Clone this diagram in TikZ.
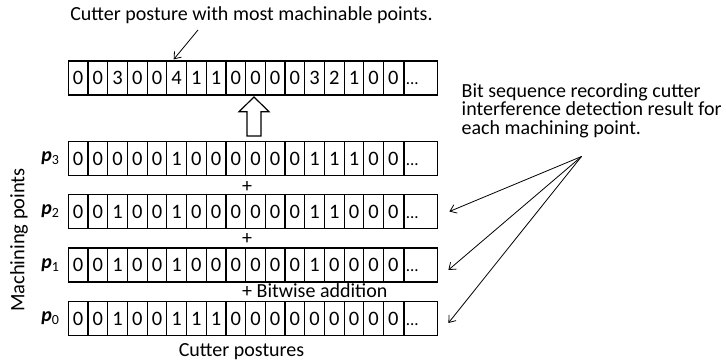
\documentclass[tikz,border=0pt]{standalone}
\usepackage{fontspec}
\setmainfont{Carlito}
\usetikzlibrary{arrows.meta,calc}

% one row of bit cells: #1 name, #2 vertical centre, #3 values
\newcommand{\bitrow}[3]{%
  \foreach \v [count=\i] in {#3} {
    \node[cell] (#1-\i) at ({68.3+(\i-0.5)*19.7}, #2) {\v};
  }
  \node[endcell, anchor=west] (#1-e) at (#1-17.east) {\vphantom{0}{\fontsize{17}{20}\selectfont...}};
}
% bold italic point name with index
\newcommand{\ptname}[1]{\textbf{\textit{p}}\textsubscript{#1}}

\begin{document}
\begin{tikzpicture}[x=1pt, y=-1pt,
  txt/.style={inner sep=0pt, font=\fontsize{20}{22}\selectfont},
  cell/.style={draw, line width=1.2pt, minimum width=19.7pt, minimum height=34pt,
    inner sep=0pt, font=\fontsize{20.5}{22}\selectfont},
  endcell/.style={draw, line width=1.2pt, minimum width=33.4pt, minimum height=34pt,
    inner sep=1.5pt, text width=30.4pt, align=left, font=\fontsize{20.5}{22}\selectfont},
  plabel/.style={inner sep=0pt, anchor=east, font=\fontsize{20}{22}\selectfont},
  thin/.style={line width=0.8pt, -{Straight Barb[length=6pt, width=9pt]}},
  hollow/.style={draw, line width=1.2pt, fill=white, line join=miter},
]
\useasboundingbox (0,0) rectangle (726,362);

% summed row and the addends
\bitrow{top}{78}{0,0,3,0,0,4,1,1,0,0,0,0,3,2,1,0,0}
\bitrow{pthree}{158.5}{0,0,0,0,0,1,0,0,0,0,0,0,1,1,1,0,0}
\bitrow{ptwo}{211.5}{0,0,1,0,0,1,0,0,0,0,0,0,1,1,0,0,0}
\bitrow{pone}{265}{0,0,1,0,0,1,0,0,0,0,0,0,1,0,0,0,0}
\bitrow{pzero}{318.5}{0,0,1,0,0,1,1,1,0,0,0,0,0,0,0,0,0}

% row labels
\node[plabel] (lthree) at ([xshift=-8pt]pthree-1.west) {\ptname{3}};
\node[plabel] (ltwo)   at ([xshift=-8pt]ptwo-1.west)   {\ptname{2}};
\node[plabel] (lone)   at ([xshift=-8pt]pone-1.west)   {\ptname{1}};
\node[plabel] (lzero)  at ([xshift=-8pt]pzero-1.west)  {\ptname{0}};

\node[txt, rotate=90, font=\fontsize{20.5}{22}\selectfont] (axisy) at (19,240) {Machining points};
\node[txt] (axisx) at (241.5,351.5) {Cutter postures};

% plus signs between the rows
\node[txt] (plusa) at (247,186.5) {+};
\node[txt] (plusb) at (247,238.5) {+};
\node[txt, anchor=west] (plusc) at (242,290.5) {+ Bitwise addition};

% hollow arrow from the addends to the sum
\draw[hollow] (254,97) -- (269,111.7) -- (261,111.7) -- (261,136)
  -- (247,136) -- (247,111.7) -- (239,111.7) -- cycle;

% caption of the summed row
\node[txt] (cap) at (251.5,15) {Cutter posture with most machinable points.};
\coordinate (capfoot) at (198,30);
\draw[thin] (capfoot) -- ($(top-6.north west)+(7.5,-1)$);

% note on the bit sequences
\node[txt, anchor=north west, align=left, font=\fontsize{20}{18.4}\selectfont]
  (note) at (461.5,83.5) {Bit sequence recording cutter\\interference detection result for\\each machining point.};
\coordinate (notefoot) at (581.5,156.5);
\draw[thin] (notefoot) -- ($(ptwo-e.east)+(11,0)$);
\draw[thin] (notefoot) -- ($(pone-e.east)+(10,5)$);
\draw[thin] (notefoot) -- ($(pzero-e.east)+(10,4.5)$);
\end{tikzpicture}
\end{document}
